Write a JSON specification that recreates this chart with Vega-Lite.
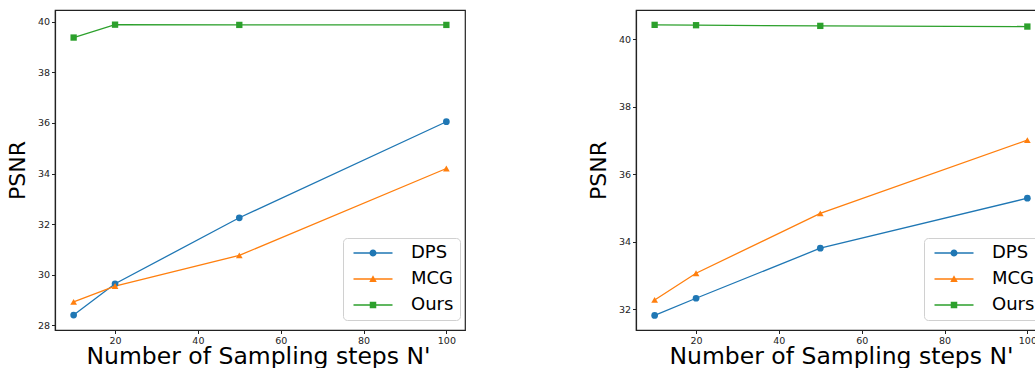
{
  "$schema": "https://vega.github.io/schema/vega-lite/v6.json",
  "padding": {"left": 5, "top": 9, "right": 0, "bottom": 0},
  "bounds": "flush",
  "spacing": 171,
  "datasets": {
    "left": [
      {"method": "DPS", "steps": 10, "psnr": 28.40},
      {"method": "DPS", "steps": 20, "psnr": 29.64},
      {"method": "DPS", "steps": 50, "psnr": 32.25},
      {"method": "DPS", "steps": 100, "psnr": 36.05},
      {"method": "MCG", "steps": 10, "psnr": 28.92},
      {"method": "MCG", "steps": 20, "psnr": 29.55},
      {"method": "MCG", "steps": 50, "psnr": 30.76},
      {"method": "MCG", "steps": 100, "psnr": 34.20},
      {"method": "Ours", "steps": 10, "psnr": 39.38},
      {"method": "Ours", "steps": 20, "psnr": 39.89},
      {"method": "Ours", "steps": 50, "psnr": 39.88},
      {"method": "Ours", "steps": 100, "psnr": 39.88}
    ],
    "right": [
      {"method": "DPS", "steps": 10, "psnr": 31.82},
      {"method": "DPS", "steps": 20, "psnr": 32.33},
      {"method": "DPS", "steps": 50, "psnr": 33.81},
      {"method": "DPS", "steps": 100, "psnr": 35.29},
      {"method": "MCG", "steps": 10, "psnr": 32.28},
      {"method": "MCG", "steps": 20, "psnr": 33.07},
      {"method": "MCG", "steps": 50, "psnr": 34.84},
      {"method": "MCG", "steps": 100, "psnr": 37.01},
      {"method": "Ours", "steps": 10, "psnr": 40.42},
      {"method": "Ours", "steps": 20, "psnr": 40.41},
      {"method": "Ours", "steps": 50, "psnr": 40.39},
      {"method": "Ours", "steps": 100, "psnr": 40.37}
    ]
  },
  "config": {
    "font": "DejaVu Sans",
    "view": {"stroke": "#222", "strokeWidth": 1.2},
    "axis": {
      "grid": false,
      "domainColor": "#222",
      "domainWidth": 1.2,
      "tickColor": "#222",
      "tickSize": 3.5,
      "labelColor": "#222",
      "labelFontSize": 9.5,
      "labelPadding": 2,
      "titleColor": "#000",
      "titleFontWeight": "normal",
      "titleFontSize": 22
    },
    "legend": {
      "title": null,
      "labelFontSize": 18,
      "labelColor": "#000",
      "fillColor": "#ffffff",
      "strokeColor": "#d0d0d0",
      "cornerRadius": 4,
      "padding": 6,
      "rowPadding": 8,
      "symbolSize": 100,
      "symbolOpacity": 1,
      "symbolStrokeWidth": 0,
      "symbolOffset": 15,
      "labelOffset": 29
    }
  },
  "resolve": {"scale": {"color": "independent", "shape": "independent"}, "legend": {"color": "independent", "shape": "independent"}},
  "hconcat": [
    {
      "width": 410,
      "height": 320,
      "data": {"name": "left"},
      "encoding": {
        "x": {"field": "steps", "type": "quantitative", "scale": {"domain": [5.5, 104.5], "nice": false, "zero": false},
          "axis": {"values": [20, 40, 60, 80, 100], "title": "Number of Sampling steps N'", "titleFontSize": 23.5, "titlePadding": -1, "titleX": 203, "titleAlign": "center"}},
        "y": {"field": "psnr", "type": "quantitative", "scale": {"domain": [27.81, 40.47], "nice": false, "zero": false},
          "axis": {"values": [28, 30, 32, 34, 36, 38, 40], "title": "PSNR", "titlePadding": 8}}
      },
      "layer": [
        {"mark": {"type": "point", "filled": true, "opacity": 0.001, "size": 100},
          "encoding": {
            "color": {"field": "method", "type": "nominal", "scale": {"domain": ["DPS", "MCG", "Ours"], "range": ["#1f77b4", "#ff7f0e", "#2ca02c"]},
              "legend": {"orient": "none", "legendX": 288, "legendY": 228}},
            "shape": {"field": "method", "type": "nominal",
              "scale": {"domain": ["DPS", "MCG", "Ours"], "range": [
                "M-3.9,-0.14H3.9V0.14H-3.9ZM0.7,0A0.7,0.7,0,1,1,-0.7,0A0.7,0.7,0,1,1,0.7,0Z",
                "M-3.9,-0.14H3.9V0.14H-3.9ZM0,-0.75L0.75,0.6L-0.75,0.6Z",
                "M-3.9,-0.14H3.9V0.14H-3.9ZM-0.65,-0.65H0.65V0.65H-0.65Z"]},
              "legend": {"orient": "none", "legendX": 288, "legendY": 228}}
          }},
        {"mark": {"type": "line", "strokeWidth": 1.3},
          "encoding": {"color": {"field": "method", "type": "nominal", "legend": null}}},
        {"transform": [{"filter": "datum.method === 'DPS'"}], "mark": {"type": "point", "filled": true, "opacity": 1, "size": 45, "shape": "circle"},
          "encoding": {"color": {"field": "method", "type": "nominal", "legend": null}}},
        {"transform": [{"filter": "datum.method === 'MCG'"}], "mark": {"type": "point", "filled": true, "opacity": 1, "size": 45, "shape": "triangle-up"},
          "encoding": {"color": {"field": "method", "type": "nominal", "legend": null}}},
        {"transform": [{"filter": "datum.method === 'Ours'"}], "mark": {"type": "point", "filled": true, "opacity": 1, "size": 40, "shape": "square"},
          "encoding": {"color": {"field": "method", "type": "nominal", "legend": null}}}
      ]
    },
    {
      "width": 401,
      "height": 320,
      "data": {"name": "right"},
      "encoding": {
        "x": {"field": "steps", "type": "quantitative", "scale": {"domain": [5.5, 102.33], "nice": false, "zero": false},
          "axis": {"values": [20, 40, 60, 80, 100], "title": "Number of Sampling steps N'", "titleFontSize": 23.5, "titlePadding": -1, "titleX": 205, "titleAlign": "center"}},
        "y": {"field": "psnr", "type": "quantitative", "scale": {"domain": [31.39, 40.86], "nice": false, "zero": false},
          "axis": {"values": [32, 34, 36, 38, 40], "title": "PSNR", "titlePadding": 8}}
      },
      "layer": [
        {"mark": {"type": "point", "filled": true, "opacity": 0.001, "size": 100},
          "encoding": {
            "color": {"field": "method", "type": "nominal", "scale": {"domain": ["DPS", "MCG", "Ours"], "range": ["#1f77b4", "#ff7f0e", "#2ca02c"]},
              "legend": {"orient": "none", "legendX": 288, "legendY": 228}},
            "shape": {"field": "method", "type": "nominal",
              "scale": {"domain": ["DPS", "MCG", "Ours"], "range": [
                "M-3.9,-0.14H3.9V0.14H-3.9ZM0.7,0A0.7,0.7,0,1,1,-0.7,0A0.7,0.7,0,1,1,0.7,0Z",
                "M-3.9,-0.14H3.9V0.14H-3.9ZM0,-0.75L0.75,0.6L-0.75,0.6Z",
                "M-3.9,-0.14H3.9V0.14H-3.9ZM-0.65,-0.65H0.65V0.65H-0.65Z"]},
              "legend": {"orient": "none", "legendX": 288, "legendY": 228}}
          }},
        {"mark": {"type": "line", "strokeWidth": 1.3},
          "encoding": {"color": {"field": "method", "type": "nominal", "legend": null}}},
        {"transform": [{"filter": "datum.method === 'DPS'"}], "mark": {"type": "point", "filled": true, "opacity": 1, "size": 45, "shape": "circle"},
          "encoding": {"color": {"field": "method", "type": "nominal", "legend": null}}},
        {"transform": [{"filter": "datum.method === 'MCG'"}], "mark": {"type": "point", "filled": true, "opacity": 1, "size": 45, "shape": "triangle-up"},
          "encoding": {"color": {"field": "method", "type": "nominal", "legend": null}}},
        {"transform": [{"filter": "datum.method === 'Ours'"}], "mark": {"type": "point", "filled": true, "opacity": 1, "size": 40, "shape": "square"},
          "encoding": {"color": {"field": "method", "type": "nominal", "legend": null}}}
      ]
    }
  ]
}
